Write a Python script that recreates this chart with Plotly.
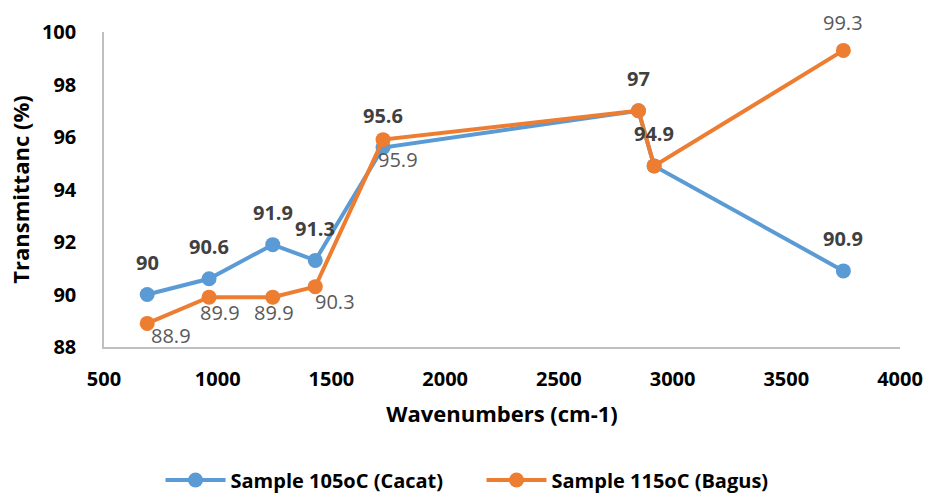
import plotly.graph_objects as go

# ---- data ----
wavenumbers = [690, 962, 1242, 1429, 1727, 2850, 2919, 3751]
cacat_105 = [90, 90.6, 91.9, 91.3, 95.6, 97, 94.9, 90.9]
bagus_115 = [88.9, 89.9, 89.9, 90.3, 95.9, 97, 94.9, 99.3]
series_names = ["Sample 105oC (Cacat)", "Sample 115oC (Bagus)"]
x_ticks = [500, 1000, 1500, 2000, 2500, 3000, 3500, 4000]
y_ticks = [88, 90, 92, 94, 96, 98, 100]

# ---- styling ----
BLUE = "#5B9BD5"
ORANGE = "#ED7D31"
FONT = "Open Sans"
# label offsets (px) per point: (dx, dy); None = label hidden (overlaps)
blue_offsets = [(0, 32)] * 8
orange_offsets = [(24, -12), (11, -15), (1, -15), (20, -15), (15, -20), None, None, (0, 28)]

fig = go.Figure()
for name, ys, col in [(series_names[0], cacat_105, BLUE), (series_names[1], bagus_115, ORANGE)]:
    fig.add_trace(go.Scatter(
        x=wavenumbers, y=ys, name=name, mode="lines+markers",
        line=dict(color=col, width=4),
        marker=dict(color=col, size=15),
        hoverinfo="x+y",
    ))

annotations = []
for xv, yv, off in zip(wavenumbers, cacat_105, blue_offsets):
    if off is None:
        continue
    annotations.append(dict(x=xv, y=yv, xref="x", yref="y", text=f"{yv:g}", showarrow=False,
                            xshift=off[0], yshift=off[1],
                            font=dict(family=FONT, size=20, color="#404040", weight="bold")))
for xv, yv, off in zip(wavenumbers, bagus_115, orange_offsets):
    if off is None:
        continue
    annotations.append(dict(x=xv, y=yv, xref="x", yref="y", text=f"{yv:g}", showarrow=False,
                            xshift=off[0], yshift=off[1],
                            font=dict(family=FONT, size=20, color="#595959")))

fig.update_layout(
    width=926, height=497,
    margin=dict(l=104, r=26, t=32, b=150, autoexpand=False),
    paper_bgcolor="white", plot_bgcolor="white",
    font=dict(family=FONT, color="#000000"),
    annotations=annotations,
    showlegend=True,
    legend=dict(orientation="h", x=0.071, xanchor="left", y=-0.422, yanchor="middle",
                font=dict(family=FONT, size=20, color="#000000", weight="bold"),
                itemwidth=60, entrywidth=246, bgcolor="rgba(0,0,0,0)"),
    xaxis=dict(range=[500, 4000], tickvals=x_ticks, ticktext=[str(v) for v in x_ticks],
               showgrid=False, zeroline=False, showline=True, linecolor="#BFBFBF", linewidth=1.5,
               ticks="", ticklabelstandoff=13,
               tickfont=dict(family=FONT, size=20, color="#000000", weight="bold"),
               title=dict(text="Wavenumbers (cm-1)", standoff=16,
                          font=dict(family=FONT, size=22, color="#000000", weight="bold")),
               automargin=False),
    yaxis=dict(range=[88, 100], tickvals=y_ticks, ticktext=[str(v) for v in y_ticks],
               showgrid=False, zeroline=False, showline=True, linecolor="#BFBFBF", linewidth=1.5,
               ticks="", ticklabelstandoff=22,
               tickfont=dict(family=FONT, size=20, color="#000000", weight="bold"),
               title=dict(text="Transmittanc (%)", standoff=6,
                          font=dict(family=FONT, size=22, color="#000000", weight="bold")),
               automargin=False),
)

fig.write_html("out.html")
